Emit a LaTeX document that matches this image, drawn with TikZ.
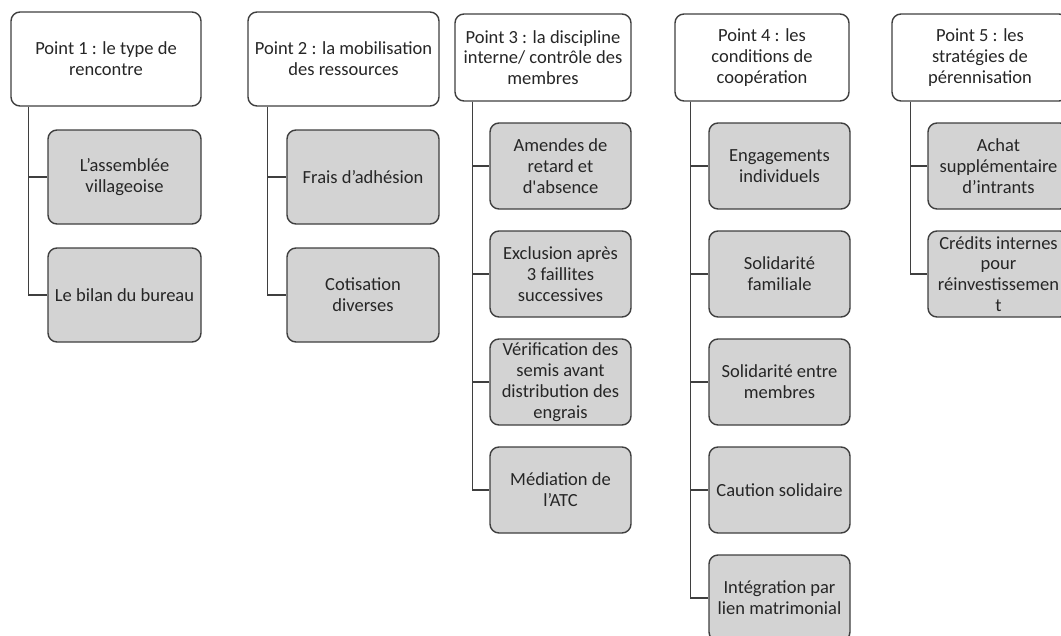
\documentclass[tikz,border=0pt]{standalone}
\usepackage{fontspec}
\setmainfont{Carlito}
\definecolor{bordc}{HTML}{3F3F3F}
\definecolor{kidc}{HTML}{D3D3D3}
\definecolor{txtc}{HTML}{262626}
\tikzset{
  base/.style={draw=bordc, line width=1.4pt, rounded corners=9pt, align=center,
    text=txtc, font=\fontsize{18.5}{20.8}\selectfont, inner sep=1pt},
  hdr/.style={base, fill=white},
  kid/.style={base, fill=kidc},
  link/.style={draw=bordc, line width=1.4pt}
}
\begin{document}
\begin{tikzpicture}[x=1pt,y=-1pt]
\useasboundingbox (0,0) rectangle (1061,635);
\clip (0,0) rectangle (1061,635);
\fill[white] (0,0) rectangle (1061,635);
% Column 1
\node[hdr, minimum width=190pt, minimum height=94pt] (h1) at (106,59) {Point 1 : le type de\\rencontre};
\node[kid, minimum width=153pt, minimum height=94pt] (a1) at (124.5,177) {L’assemblée\\villageoise};
\node[kid, minimum width=153pt, minimum height=94pt] (a2) at (124.5,295) {Le bilan du bureau};
\draw[link] ([xshift=18pt]h1.south west) |- (a1.west);
\draw[link] ([xshift=18pt]h1.south west) |- (a2.west);
% Column 2
\node[hdr, minimum width=191pt, minimum height=94pt] (h2) at (343.5,59) {Point 2 : la mobilisation\\des ressources};
\node[kid, minimum width=152pt, minimum height=94pt] (b1) at (363,177) {Frais d’adhésion};
\node[kid, minimum width=152pt, minimum height=94pt] (b2) at (363,295) {Cotisation\\diverses};
\draw[link] ([xshift=20pt]h2.south west) |- (b1.west);
\draw[link] ([xshift=20pt]h2.south west) |- (b2.west);
% Column 3
\node[hdr, minimum width=176pt, minimum height=87pt] (h3) at (543,57.5) {Point 3 : la discipline\\interne/ contrôle des\\membres};
\node[kid, minimum width=141pt, minimum height=86pt] (c1) at (560.5,166) {Amendes de\\retard et\\d\textquotesingle absence};
\node[kid, minimum width=141pt, minimum height=86pt] (c2) at (560.5,274) {Exclusion après\\3 faillites\\successives};
\node[kid, minimum width=141pt, minimum height=86pt] (c3) at (560.5,382) {Vérification des\\semis avant\\distribution des\\engrais};
\node[kid, minimum width=141pt, minimum height=86pt] (c4) at (560.5,490) {Médiation de\\l’ATC};
\foreach \k in {c1,c2,c3,c4}{\draw[link] ([xshift=18pt]h3.south west) |- (\k.west);}
% Column 4
\node[hdr, minimum width=174pt, minimum height=87pt] (h4) at (762,57.5) {Point 4 : les\\conditions de\\coopération};
\node[kid, minimum width=141pt, minimum height=86pt] (d1) at (779.5,166) {Engagements\\individuels};
\node[kid, minimum width=141pt, minimum height=86pt] (d2) at (779.5,274) {Solidarité\\familiale};
\node[kid, minimum width=141pt, minimum height=86pt] (d3) at (779.5,382) {Solidarité entre\\membres};
\node[kid, minimum width=141pt, minimum height=86pt] (d4) at (779.5,490) {Caution solidaire};
\node[kid, minimum width=141pt, minimum height=86pt] (d5) at (779.5,598) {Intégration par\\lien matrimonial};
\foreach \k in {d1,d2,d3,d4,d5}{\draw[link] ([xshift=16pt]h4.south west) |- (\k.west);}
% Column 5
\node[hdr, minimum width=176pt, minimum height=87pt] (h5) at (980,57.5) {Point 5 : les\\stratégies de\\pérennisation};
\node[kid, minimum width=141pt, minimum height=86pt] (e1) at (998.5,166) {Achat\\supplémentaire\\d’intrants};
\node[kid, minimum width=141pt, minimum height=86pt] (e2) at (998.5,274) {Crédits internes\\pour\\réinvestissemen\\t};
\foreach \k in {e1,e2}{\draw[link] ([xshift=19pt]h5.south west) |- (\k.west);}
\end{tikzpicture}
\end{document}
